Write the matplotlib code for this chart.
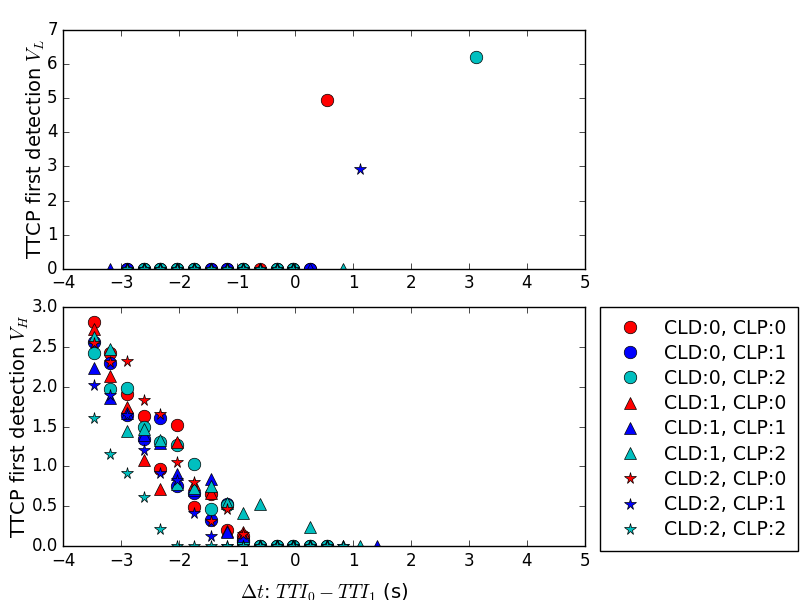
import numpy as np
import matplotlib
matplotlib.use('Agg')
import matplotlib.pyplot as plt

plt.style.use('classic')
plt.rcParams['mathtext.fontset'] = 'cm'

# x grid of the delta-t bins
grid = [-3.47, -3.19, -2.90, -2.60, -2.33, -2.03, -1.74, -1.45, -1.17,
        -0.90, -0.60, -0.31, -0.03, 0.26, 0.55, 0.83, 1.12, 1.41]

labels = ['CLD:0, CLP:0', 'CLD:0, CLP:1', 'CLD:0, CLP:2',
          'CLD:1, CLP:0', 'CLD:1, CLP:1', 'CLD:1, CLP:2',
          'CLD:2, CLP:0', 'CLD:2, CLP:1', 'CLD:2, CLP:2']
colors = ['r', 'b', 'c', 'r', 'b', 'c', 'r', 'b', 'c']
markers = ['o', 'o', 'o', '^', '^', '^', '*', '*', '*']

# top panel (V_L): bin indices and values per series
top_idx = [
    list(range(2, 15)),
    [2, 3, 4, 5, 6, 7, 8, 9, 11, 12, 13],
    [3, 4, 5, 6, 9, 11, 12],
    list(range(2, 13)),
    list(range(1, 14)),
    list(range(2, 13)) + [15],
    list(range(2, 13)),
    list(range(2, 13)) + [16],
    list(range(2, 13)),
]
top_val = [
    [0] * 12 + [4.95],
    [0] * 11,
    [0] * 7,
    [0] * 11,
    [0] * 13,
    [0] * 12,
    [0] * 11,
    [0] * 11 + [2.93],
    [0] * 11,
]
# extra point off the bin grid (CLD:0, CLP:2)
top_extra_x = [None, None, 3.13, None, None, None, None, None, None]
top_extra_y = [None, None, 6.21, None, None, None, None, None, None]

# bottom panel (V_H)
bot_idx = [
    list(range(0, 15)),
    list(range(0, 15)),
    list(range(0, 15)),
    list(range(0, 14)),
    list(range(0, 15)) + [17],
    list(range(0, 17)),
    list(range(0, 15)),
    list(range(0, 16)),
    list(range(0, 16)),
]
bot_val = [
    [2.82, 2.43, 1.91, 1.63, 0.97, 1.52, 0.49, 0.65, 0.20, 0.13, 0, 0, 0, 0, 0],
    [2.56, 2.30, 1.65, 1.35, 1.61, 0.75, 0.67, 0.33, 0.53, 0.08, 0, 0, 0, 0, 0],
    [2.42, 1.97, 1.99, 1.49, 1.31, 1.27, 1.03, 0.47, 0.52, 0.05, 0, 0, 0, 0, 0],
    [2.73, 2.13, 1.75, 1.08, 0.72, 1.31, 0.78, 0.67, 0.19, 0.18, 0, 0, 0, 0],
    [2.24, 1.86, 1.67, 1.40, 1.30, 0.90, 0.70, 0.84, 0.17, 0.12, 0, 0, 0, 0, 0, 0],
    [2.63, 2.47, 1.45, 1.47, 1.33, 0.78, 0.73, 0.76, 0.54, 0.42, 0.53, 0, 0, 0.24, 0, 0, 0],
    [2.55, 2.31, 2.33, 1.83, 1.66, 1.05, 0.81, 0.31, 0.47, 0.15, 0, 0, 0, 0, 0],
    [2.02, 1.90, 1.64, 1.20, 0.92, 0.83, 0.42, 0.12, 0, 0, 0, 0, 0, 0, 0, 0],
    [1.61, 1.16, 0.92, 0.62, 0.21, 0, 0, 0, 0, 0, 0, 0, 0, 0, 0, 0],
]

fig = plt.figure(figsize=(8, 6), dpi=100)
fig.patch.set_facecolor('white')
ax1 = fig.add_axes([0.079, 0.552, 0.652, 0.398])
ax2 = fig.add_axes([0.079, 0.09, 0.652, 0.398])

def msize(m):
    return 8.5 if m == '*' else 9

for i in range(9):
    xs = [grid[k] for k in top_idx[i]]
    ys = list(top_val[i])
    if top_extra_x[i] is not None:
        xs.append(top_extra_x[i])
        ys.append(top_extra_y[i])
    ax1.plot(xs, ys, linestyle='None', marker=markers[i], color=colors[i],
             markersize=msize(markers[i]), markeredgecolor='k', markeredgewidth=0.5)

for i in range(9):
    xs = [grid[k] for k in bot_idx[i]]
    ax2.plot(xs, bot_val[i], linestyle='None', marker=markers[i], color=colors[i],
             markersize=msize(markers[i]), markeredgecolor='k', markeredgewidth=0.5,
             label=labels[i])

ax1.set_xlim(-4, 5)
ax1.set_ylim(0, 7)
ax1.set_xticks(np.arange(-4, 6))
ax1.set_ylabel('TTCP first detection $V_L$', fontsize=14, labelpad=0)

ax2.set_xlim(-4, 5)
ax2.set_ylim(0, 3.0)
ax2.set_xticks(np.arange(-4, 6))
ax2.set_yticks(np.arange(0, 3.01, 0.5))
ax2.yaxis.set_major_formatter(matplotlib.ticker.FormatStrFormatter('%.1f'))
ax2.set_ylabel('TTCP first detection $V_H$', fontsize=14, labelpad=0)
ax2.set_xlabel(r'$\Delta t$: $TTI_0 - TTI_1$ (s)', fontsize=14, labelpad=9)

ax2.legend(loc='upper left', bbox_to_anchor=(1.029, 1.0), numpoints=1,
           fontsize=13.6, labelspacing=0.33, borderpad=0.6, borderaxespad=0.)

fig.savefig('out.png', dpi=100, facecolor='white')
